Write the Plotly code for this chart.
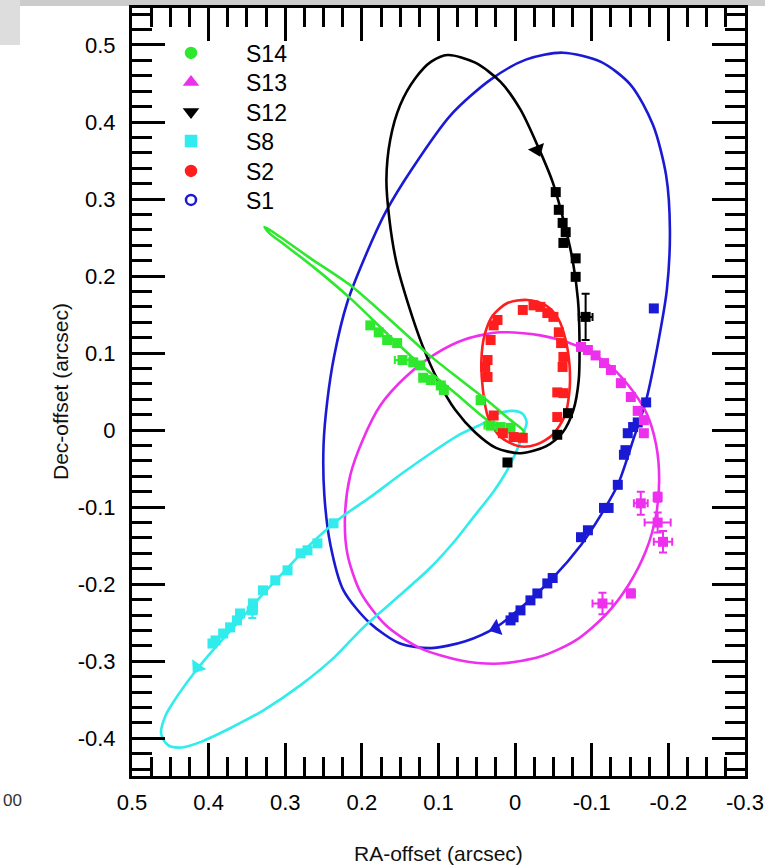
import plotly.graph_objects as go

# ---------------- data ----------------
# model orbits, RA-offset / Dec-offset in arcsec
s1_orbit_x = [-0.062, -0.112, -0.151, -0.180, -0.197, -0.202, -0.198, -0.186, -0.171, -0.154, -0.134, -0.112, -0.086, -0.049, -0.007, 0.025, 0.065, 0.110, 0.150, 0.189, 0.224, 0.241, 0.249, 0.250, 0.245, 0.236, 0.219, 0.195, 0.169, 0.134, 0.084, 0.032, -0.014, -0.062]
s1_orbit_y = [0.490, 0.478, 0.448, 0.396, 0.331, 0.260, 0.182, 0.110, 0.039, -0.013, -0.071, -0.110, -0.149, -0.192, -0.231, -0.256, -0.274, -0.283, -0.277, -0.251, -0.208, -0.149, -0.084, -0.019, 0.039, 0.097, 0.166, 0.227, 0.283, 0.340, 0.409, 0.455, 0.481, 0.490]

s12_orbit_x = [0.088, 0.052, 0.019, -0.007, -0.029, -0.049, -0.063, -0.075, -0.082, -0.084, -0.083, -0.076, -0.062, -0.040, -0.007, 0.025, 0.052, 0.078, 0.101, 0.121, 0.139, 0.155, 0.164, 0.168, 0.163, 0.150, 0.130, 0.110, 0.088]
s12_orbit_y = [0.487, 0.477, 0.452, 0.416, 0.370, 0.322, 0.273, 0.221, 0.169, 0.117, 0.065, 0.026, -0.003, -0.021, -0.030, -0.023, -0.003, 0.026, 0.065, 0.110, 0.162, 0.218, 0.273, 0.325, 0.377, 0.422, 0.457, 0.478, 0.487]

s2_orbit_x = [-0.016, -0.040, -0.056, -0.066, -0.071, -0.071, -0.065, -0.049, -0.027, -0.005, 0.019, 0.035, 0.042, 0.044, 0.040, 0.029, 0.010, -0.016]
s2_orbit_y = [0.169, 0.162, 0.145, 0.117, 0.084, 0.052, 0.019, -0.006, -0.019, -0.021, -0.009, 0.016, 0.052, 0.091, 0.123, 0.149, 0.165, 0.169]

s14_orbit_x = [0.327, 0.307, 0.267, 0.215, 0.163, 0.114, 0.071, 0.032, 0.006, -0.007, -0.012, 0.001, 0.032, 0.078, 0.127, 0.169, 0.215, 0.261, 0.300, 0.320, 0.327]
s14_orbit_y = [0.264, 0.251, 0.223, 0.188, 0.143, 0.099, 0.065, 0.035, 0.013, 0.003, -0.003, -0.005, 0.010, 0.048, 0.088, 0.127, 0.171, 0.210, 0.240, 0.255, 0.264]

s8_orbit_x = [0.041, 0.071, 0.110, 0.150, 0.189, 0.228, 0.267, 0.300, 0.333, 0.363, 0.392, 0.418, 0.440, 0.456, 0.462, 0.453, 0.435, 0.411, 0.372, 0.329, 0.280, 0.235, 0.198, 0.150, 0.110, 0.078, 0.052, 0.029, 0.012, -0.001, -0.010, -0.015, -0.010, 0.003, 0.023, 0.041]
s8_orbit_y = [0.009, -0.005, -0.030, -0.058, -0.087, -0.114, -0.148, -0.182, -0.217, -0.251, -0.283, -0.314, -0.344, -0.370, -0.394, -0.409, -0.412, -0.405, -0.387, -0.364, -0.331, -0.294, -0.256, -0.214, -0.178, -0.143, -0.110, -0.081, -0.055, -0.029, -0.006, 0.010, 0.021, 0.025, 0.021, 0.009]

s13_orbit_x = [0.019, -0.033, -0.079, -0.118, -0.148, -0.171, -0.184, -0.188, -0.184, -0.171, -0.148, -0.118, -0.079, -0.033, 0.019, 0.071, 0.124, 0.169, 0.202, 0.219, 0.222, 0.215, 0.199, 0.176, 0.143, 0.104, 0.065, 0.019]
s13_orbit_y = [0.127, 0.123, 0.110, 0.088, 0.058, 0.023, -0.019, -0.065, -0.110, -0.156, -0.201, -0.240, -0.273, -0.294, -0.303, -0.299, -0.283, -0.253, -0.210, -0.160, -0.110, -0.058, -0.013, 0.032, 0.069, 0.099, 0.118, 0.127]

# measured positions
s14_x = [0.189, 0.178, 0.167, 0.154, 0.147, 0.133, 0.124, 0.120, 0.110, 0.097, 0.093, 0.045, 0.032, 0.019, 0.006]
s14_y = [0.136, 0.127, 0.117, 0.113, 0.091, 0.088, 0.084, 0.068, 0.065, 0.058, 0.052, 0.039, 0.006, 0.004, 0.003]
s14_xerr = [0.003, 0.003, 0.003, 0.003, 0.010, 0.003, 0.003, 0.003, 0.003, 0.003, 0.003, 0.003, 0.008, 0.003, 0.003]
s14_yerr = [0.003, 0.003, 0.003, 0.003, 0.005, 0.003, 0.003, 0.003, 0.003, 0.003, 0.003, 0.003, 0.005, 0.003, 0.003]

s13_x = [-0.086, -0.095, -0.105, -0.116, -0.125, -0.138, -0.151, -0.160, -0.168, -0.168, -0.164, -0.186, -0.186, -0.193, -0.151, -0.114]
s13_y = [0.108, 0.104, 0.097, 0.087, 0.078, 0.061, 0.043, 0.025, 0.013, -0.004, -0.095, -0.087, -0.120, -0.145, -0.212, -0.225]
s13_xerr = [0.003, 0.003, 0.003, 0.003, 0.003, 0.003, 0.003, 0.003, 0.003, 0.003, 0.009, 0.004, 0.017, 0.012, 0.005, 0.013]
s13_yerr = [0.003, 0.003, 0.003, 0.003, 0.003, 0.003, 0.003, 0.003, 0.003, 0.003, 0.015, 0.006, 0.013, 0.014, 0.005, 0.014]

s12_x = [-0.029, -0.053, -0.057, -0.062, -0.066, -0.063, -0.079, -0.079, -0.092, -0.069, -0.055, 0.010]
s12_y = [0.364, 0.309, 0.286, 0.269, 0.257, 0.243, 0.223, 0.199, 0.147, 0.022, -0.006, -0.042]
s12_xerr = [0.0, 0.003, 0.003, 0.003, 0.003, 0.003, 0.003, 0.003, 0.009, 0.003, 0.003, 0.003]
s12_yerr = [0.0, 0.003, 0.003, 0.003, 0.003, 0.003, 0.003, 0.003, 0.030, 0.003, 0.003, 0.003]

s8_x = [0.237, 0.258, 0.271, 0.280, 0.297, 0.313, 0.329, 0.342, 0.343, 0.359, 0.363, 0.372, 0.381, 0.391, 0.395, 0.415]
s8_y = [-0.121, -0.147, -0.156, -0.160, -0.182, -0.195, -0.208, -0.225, -0.234, -0.238, -0.247, -0.256, -0.264, -0.273, -0.277, -0.308]
s8_xerr = [0.003, 0.003, 0.003, 0.003, 0.003, 0.003, 0.003, 0.003, 0.006, 0.003, 0.003, 0.003, 0.003, 0.003, 0.003, 0.0]
s8_yerr = [0.003, 0.003, 0.003, 0.003, 0.003, 0.003, 0.003, 0.003, 0.010, 0.003, 0.003, 0.003, 0.003, 0.003, 0.003, 0.0]

s2_x = [-0.010, -0.024, -0.033, -0.042, -0.050, -0.057, -0.060, -0.063, -0.062, -0.055, -0.063, -0.055, -0.010, 0.002, 0.016, 0.028, 0.036, 0.039, 0.036, 0.032, 0.028, 0.023]
s2_y = [0.156, 0.162, 0.160, 0.152, 0.147, 0.127, 0.113, 0.095, 0.082, 0.049, 0.048, 0.017, -0.010, -0.009, -0.004, 0.019, 0.069, 0.082, 0.091, 0.117, 0.136, 0.143]

s1_x = [-0.181, -0.171, -0.160, -0.154, -0.147, -0.144, -0.142, -0.134, -0.122, -0.116, -0.095, -0.086, -0.049, -0.042, -0.029, -0.020, -0.007, 0.002, 0.006, 0.025]
s1_y = [0.158, 0.036, 0.010, 0.004, -0.004, -0.026, -0.032, -0.071, -0.101, -0.101, -0.130, -0.139, -0.192, -0.199, -0.212, -0.221, -0.234, -0.243, -0.247, -0.257]

star_names = ["S14", "S13", "S12", "S8", "S2", "S1"]
star_colors = ["#2ee82e", "#ee30ee", "#000000", "#30ecec", "#ff1e1e", "#1a1ad4"]

x_tick_vals = [0.5, 0.4, 0.3, 0.2, 0.1, 0.0, -0.1, -0.2, -0.3]
x_tick_text = ["0.5", "0.4", "0.3", "0.2", "0.1", "0", "-0.1", "-0.2", "-0.3"]
y_tick_vals = [0.5, 0.4, 0.3, 0.2, 0.1, 0.0, -0.1, -0.2, -0.3, -0.4]
y_tick_text = ["0.5", "0.4", "0.3", "0.2", "0.1", "0", "-0.1", "-0.2", "-0.3", "-0.4"]

# ---------------- figure ----------------
FONT = "Liberation Sans, Arial, Helvetica, sans-serif"
col = dict(zip(star_names, star_colors))
fig = go.Figure()

orbits = [("S1", s1_orbit_x, s1_orbit_y), ("S13", s13_orbit_x, s13_orbit_y),
          ("S8", s8_orbit_x, s8_orbit_y), ("S12", s12_orbit_x, s12_orbit_y),
          ("S14", s14_orbit_x, s14_orbit_y), ("S2", s2_orbit_x, s2_orbit_y)]
for name, ox, oy in orbits:
    fig.add_trace(go.Scatter(x=ox, y=oy, mode="lines", showlegend=False, hoverinfo="skip",
                             line=dict(color=col[name], width=2.6, shape="spline", smoothing=0.8)))


def data_trace(name, x, y, xerr=None, yerr=None, arrow_idx=None, arrow_angle=0):
    n = len(x)
    symbols = ["square"] * n
    sizes = [10] * n
    angles = [0] * n
    if arrow_idx is not None:
        symbols[arrow_idx] = "triangle-up"
        sizes[arrow_idx] = 15
        angles[arrow_idx] = arrow_angle
    c = col[name]
    tr = go.Scatter(x=x, y=y, mode="markers", showlegend=False, hoverinfo="skip",
                    marker=dict(symbol=symbols, size=sizes, angle=angles, color=c, opacity=1,
                                line=dict(width=0)))
    if xerr is not None:
        tr.error_x = dict(type="data", array=xerr, color=c, thickness=2, width=4)
    if yerr is not None:
        tr.error_y = dict(type="data", array=yerr, color=c, thickness=2, width=4)
    return tr


fig.add_trace(data_trace("S8", s8_x, s8_y, s8_xerr, s8_yerr, arrow_idx=len(s8_x) - 1, arrow_angle=215))
fig.add_trace(data_trace("S1", s1_x, s1_y, arrow_idx=len(s1_x) - 1, arrow_angle=250))
fig.add_trace(data_trace("S13", s13_x, s13_y, s13_xerr, s13_yerr))
fig.add_trace(data_trace("S12", s12_x, s12_y, s12_xerr, s12_yerr, arrow_idx=0, arrow_angle=158))
fig.add_trace(data_trace("S14", s14_x, s14_y, s14_xerr, s14_yerr))
fig.add_trace(data_trace("S2", s2_x, s2_y))

# legend entries (one small legend per row to reproduce the tight row spacing)
legend_symbols = ["circle", "triangle-up", "triangle-down", "square", "circle", "circle-open"]
legend_rows_px = [53, 82, 112, 141, 171, 200]
for i, name in enumerate(star_names):
    lid = "legend" if i == 0 else f"legend{i + 1}"
    fig.add_trace(go.Scatter(x=[None], y=[None], mode="markers", name=name, legend=lid,
                             marker=dict(symbol=legend_symbols[i], size=10, color=col[name],
                                         line=dict(width=2.5, color=col[name]))))
    fig.update_layout(**{lid: dict(x=(136 - 132) / 613, y=(776 - legend_rows_px[i]) / 768,
                                   xanchor="left", yanchor="middle", bgcolor="rgba(0,0,0,0)",
                                   borderwidth=0, itemwidth=100,
                                   font=dict(family=FONT, size=23, color="black"))})

axis_common = dict(showline=True, linewidth=3, linecolor="black", mirror="ticks",
                   ticks="inside", tickwidth=2.5, tickcolor="black", ticklen=33,
                   showgrid=False, zeroline=False,
                   tickfont=dict(family=FONT, size=22, color="black"), tickmode="array")

fig.update_xaxes(range=[0.5, -0.3], tickvals=x_tick_vals, ticktext=x_tick_text,
                 ticklabelstandoff=5,
                 minor=dict(tickmode="linear", tick0=0, dtick=0.025, ticks="inside",
                            ticklen=19, tickwidth=2.5, tickcolor="black", showgrid=False),
                 **axis_common)
fig.update_yaxes(range=[-0.449, 0.548], tickvals=y_tick_vals, ticktext=y_tick_text,
                 ticklabelstandoff=9,
                 minor=dict(tickmode="linear", tick0=0, dtick=0.02, ticks="inside",
                            ticklen=20, tickwidth=2.5, tickcolor="black", showgrid=False),
                 **axis_common)

fig.update_layout(
    width=765, height=868,
    margin=dict(l=132, r=20, t=8, b=92, autoexpand=False),
    paper_bgcolor="white", plot_bgcolor="white",
    font=dict(family=FONT, color="black"),
    annotations=[
        dict(text="RA-offset (arcsec)", xref="paper", yref="paper", x=0.5, y=(776 - 853) / 768,
             xanchor="center", yanchor="middle", showarrow=False,
             font=dict(family=FONT, size=21, color="#111")),
        dict(text="Dec-offset (arcsec)", xref="paper", yref="paper", x=(60 - 132) / 613, y=0.5,
             xanchor="center", yanchor="middle", textangle=-90, showarrow=False,
             font=dict(family=FONT, size=21, color="#111")),
        dict(text="00", xref="paper", yref="paper", x=(12 - 132) / 613, y=(776 - 800) / 768,
             xanchor="center", yanchor="middle", showarrow=False,
             font=dict(family=FONT, size=17, color="#333")),
    ],
    shapes=[
        dict(type="rect", xref="paper", yref="paper", x0=-132 / 613, x1=633 / 613,
             y0=(776 - 6) / 768, y1=776 / 768, fillcolor="#cccccc", line=dict(width=0), layer="below"),
        dict(type="rect", xref="paper", yref="paper", x0=-132 / 613, x1=(20 - 132) / 613,
             y0=(776 - 45) / 768, y1=776 / 768, fillcolor="#dddddd", line=dict(width=0), layer="below"),
    ],
)

fig.write_html("out.html", config={"displayModeBar": False},
               post_script="document.body.style.margin='0px';document.body.style.overflow='hidden';")
